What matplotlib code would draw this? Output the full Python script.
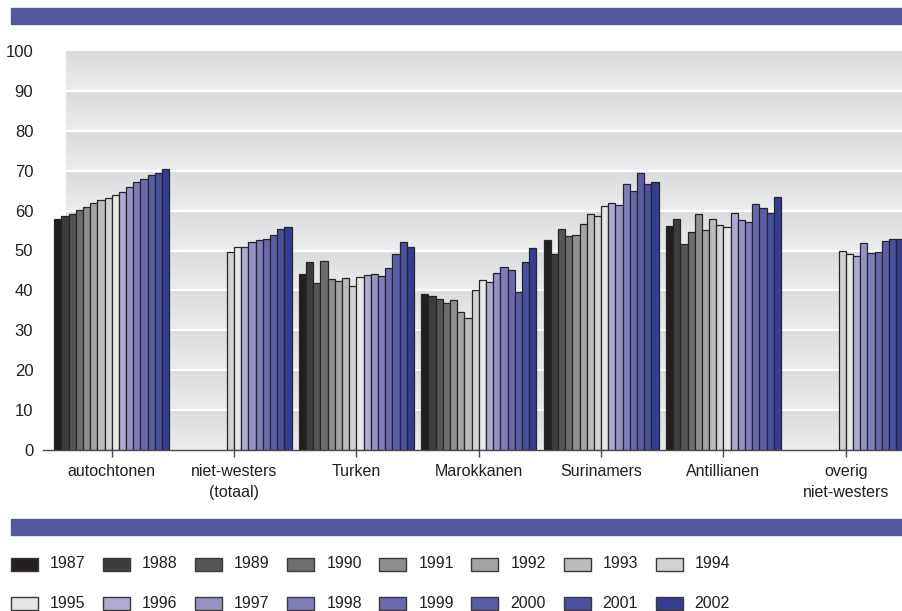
import numpy as np
import matplotlib
matplotlib.use('Agg')
import matplotlib.pyplot as plt
import matplotlib.patches as mpatches
from matplotlib.colors import LinearSegmentedColormap

plt.rcParams['font.family'] = ['Liberation Sans', 'DejaVu Sans']

# Data
groups = ['autochtonen', 'niet-westers\n(totaal)', 'Turken', 'Marokkanen',
          'Surinamers', 'Antillianen', 'overig\nniet-westers']
years = [str(y) for y in range(1987, 2003)]
nan = np.nan

autochtonen = [57.9, 58.6, 59.1, 60.1, 61.0, 61.8, 62.6, 63.1,
               63.9, 64.7, 65.9, 67.1, 68.0, 68.8, 69.5, 70.4]
niet_westers = [nan, nan, nan, nan, nan, nan, nan, 49.5,
                51.0, 51.0, 52.2, 52.6, 52.8, 53.8, 55.3, 55.9]
turken = [44.1, 47.2, 41.9, 47.4, 42.9, 42.4, 43.0, 41.2,
          43.3, 43.9, 44.2, 43.7, 45.5, 49.2, 52.1, 51.0]
marokkanen = [39.1, 38.7, 37.8, 36.8, 37.6, 34.6, 33.0, 40.2,
              42.5, 42.0, 44.4, 45.8, 45.2, 39.6, 47.0, 50.6]
surinamers = [52.7, 49.1, 55.3, 53.6, 53.8, 56.6, 59.2, 58.6,
              61.2, 61.8, 61.3, 66.6, 64.9, 69.3, 66.7, 67.1]
antillianen = [56.1, 57.8, 51.6, 54.7, 59.1, 55.1, 58.0, 56.4,
               56.0, 59.3, 57.6, 57.2, 61.6, 60.7, 59.3, 63.5]
overig = [nan, nan, nan, nan, nan, nan, nan, 49.9,
          49.0, 48.6, 51.8, 49.3, 49.5, 52.3, 53.0, 52.8]

values = np.array([autochtonen, niet_westers, turken, marokkanen,
                   surinamers, antillianen, overig])

colors = ['#231f1e', '#3d3d3e', '#545556', '#6d6e70', '#8e8f91', '#a3a4a6',
          '#bbbcbe', '#d2d3d5', '#e6e7e8', '#aeaad4', '#9592c8', '#807dbc',
          '#6a68ae', '#5a5ea8', '#4a4f9f', '#343d94']

W, H = 903, 611
fig = plt.figure(figsize=(W / 100, H / 100), dpi=100)
ax = fig.add_axes([43 / W, 161 / H, 860 / W, 399 / H])

x0 = (43 - 111.7) / 122.35
x1 = (903 - 111.7) / 122.35
xbg = (66 - 111.7) / 122.35
ax.set_xlim(x0, x1)
ax.set_ylim(0, 100)

# banded gradient background
band = np.linspace(0, 1, 100)
grad = np.tile(band, 10)[:, None]
cmap = LinearSegmentedColormap.from_list('bg', ['#ecedee', '#dadbdd'])
ax.imshow(grad, cmap=cmap, extent=(xbg, x1, 0, 100), origin='lower',
          aspect='auto', zorder=0, interpolation='bilinear')
ax.hlines(np.arange(10, 100, 10), xbg, x1, colors='white', lw=1.6, zorder=1)

# bars
n = len(years)
bw = 0.94 / n
xg = np.arange(len(groups))
for j in range(n):
    ax.bar(xg + (j - (n - 1) / 2) * bw, values[:, j], width=bw,
           color=colors[j], edgecolor='#262626', linewidth=0.9, zorder=2)

for s in ['top', 'right', 'left']:
    ax.spines[s].set_visible(False)
ax.spines['bottom'].set_color('#4a4a4a')
ax.spines['bottom'].set_linewidth(1.0)
ax.spines['bottom'].set_zorder(3)

ax.set_xticks(xg)
ax.set_xticklabels(groups, fontsize=11.5, color='#231f20', linespacing=1.55)
ax.tick_params(axis='x', length=5, width=1, color='#4a4a4a', pad=5)
ax.set_yticks(np.arange(0, 101, 10))
ax.tick_params(axis='y', length=0, pad=7, labelsize=12, labelcolor='#231f20')
for lab in ax.get_yticklabels():
    lab.set_y(lab.get_position()[1])

# decorative bands
fig.add_artist(mpatches.Rectangle((11 / W, (H - 24) / H), (W - 11) / W, 16 / H,
                                  transform=fig.transFigure, color='#5558a0'))
fig.add_artist(mpatches.Rectangle((11 / W, (H - 535) / H), (W - 11) / W, 16 / H,
                                  transform=fig.transFigure, color='#5558a0'))

# legend
for i, yr in enumerate(years):
    row, col = divmod(i, 8)
    px = 11 + col * 92.1
    py = 564 + row * 39
    fig.add_artist(mpatches.Rectangle((px / W, (H - py - 6.5) / H), 27 / W, 13 / H,
                                      transform=fig.transFigure, facecolor=colors[i],
                                      edgecolor='#3a3a3a', linewidth=1.0))
    fig.text((px + 39) / W, (H - py) / H, yr, fontsize=11.5, color='#231f20',
             va='center', ha='left')

fig.savefig('out.png', dpi=100)
